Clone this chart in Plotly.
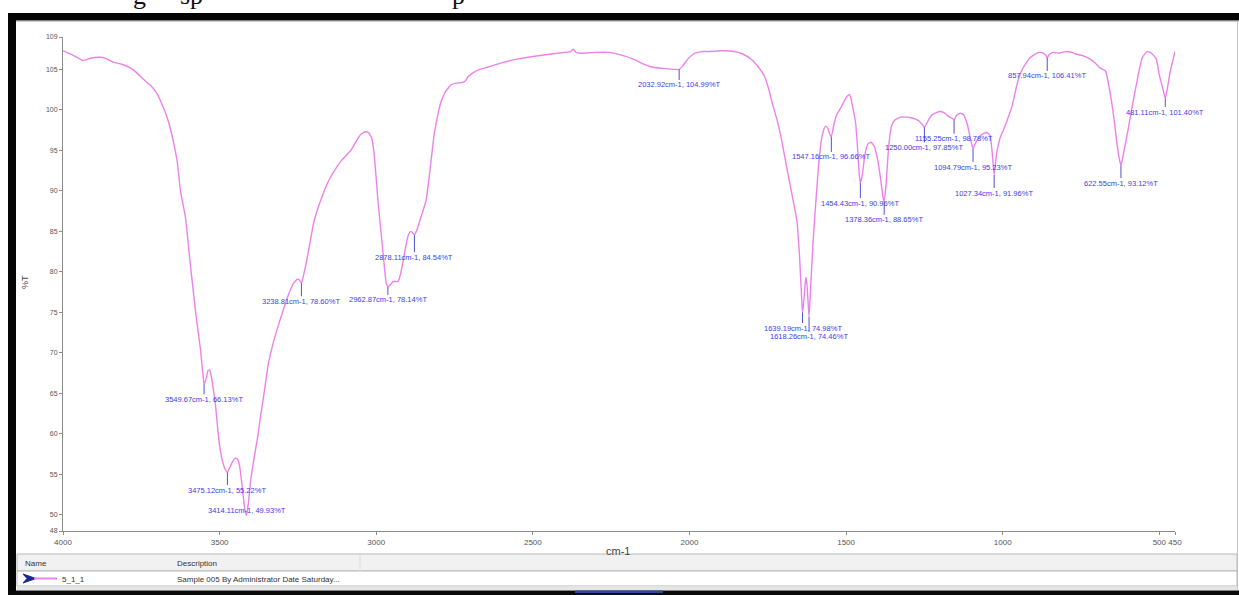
import plotly.graph_objects as go

# ---------------- data ----------------
wavenumber = [4000, 3970, 3936, 3910, 3880, 3860, 3840, 3810, 3785, 3765, 3744, 3720, 3700, 3685,
              3667, 3647, 3635, 3625, 3609, 3595, 3587, 3575, 3561, 3553, 3549.67, 3543, 3537, 3532,
              3527, 3520, 3513, 3507, 3500, 3490, 3482, 3475.12, 3468, 3458, 3450, 3443, 3436, 3428,
              3420, 3414.11, 3408, 3400, 3390, 3379, 3370, 3360, 3345, 3327, 3310, 3296, 3280, 3264,
              3252, 3245, 3238.81, 3232, 3225, 3212, 3200, 3185, 3171, 3155, 3135, 3110, 3081, 3060,
              3049, 3035, 3025, 3015, 3008, 3000, 2995, 2985, 2975, 2969, 2962.87, 2955, 2947, 2938,
              2931, 2922, 2912, 2904, 2896, 2889, 2883, 2878.11, 2870, 2857, 2841, 2830, 2815, 2800,
              2793, 2780, 2761, 2745, 2723, 2715, 2707, 2690, 2670, 2643, 2600, 2547, 2500, 2441,
              2400, 2380, 2371, 2362, 2351, 2300, 2259, 2220, 2175, 2150, 2121, 2080, 2050, 2032.92,
              2020, 2005, 1983, 1960, 1939, 1900, 1855, 1830, 1801, 1780, 1760, 1745, 1737, 1720,
              1705, 1690, 1673, 1657, 1648, 1641, 1639.19, 1636, 1630, 1628, 1625, 1621, 1618.26,
              1614, 1605, 1595, 1587, 1578, 1570, 1565, 1558, 1552, 1547.16, 1540, 1530, 1515, 1500,
              1490, 1485, 1478, 1470, 1462, 1458, 1454.43, 1448, 1440, 1430, 1420, 1410, 1400, 1390,
              1382, 1378.36, 1372, 1364, 1355, 1346, 1327, 1310, 1289, 1270, 1257, 1250.00, 1243,
              1235, 1225, 1210, 1199, 1185, 1173, 1163, 1155.25, 1148, 1136, 1125, 1113, 1105, 1098,
              1094.79, 1088, 1075, 1060, 1049, 1040, 1033, 1027.34, 1020, 1008, 1000, 986, 970, 954,
              940, 925, 914, 900, 885, 870, 862, 857.94, 852, 840, 820, 800, 780, 767, 745, 722,
              705, 690, 672, 658, 645, 635, 628, 622.55, 615, 600, 584, 572, 562, 554, 539, 525,
              510, 500, 490, 481.11, 475, 465, 450]
transmittance = [107.3, 106.8, 106.1, 106.4, 106.5, 106.3, 105.9, 105.6, 105.2, 104.6, 103.8, 103.0,
                 102.0, 100.8, 99.0, 96.0, 93.5, 90.0, 86.7, 81.5, 78.6, 74.5, 70.4, 67.2, 66.13,
                 66.8, 67.8, 67.9, 67.2, 65.5, 63.5, 61.0, 58.5, 56.5, 55.6, 55.22, 55.8, 56.6, 57.0,
                 56.9, 56.0, 53.5, 50.8, 49.93, 51.5, 54.5, 57.0, 59.5, 62.0, 64.5, 68.5, 71.5, 73.7,
                 75.4, 77.2, 78.6, 79.1, 79.0, 78.6, 79.6, 80.8, 83.5, 86.0, 88.0, 89.5, 91.0, 92.4,
                 93.8, 95.0, 96.4, 97.0, 97.3, 97.2, 96.6, 95.0, 91.5, 89.0, 85.0, 81.0, 78.8, 78.14,
                 78.4, 78.8, 78.8, 78.8, 79.8, 81.8, 83.5, 84.7, 85.0, 84.8, 84.54, 85.2, 86.8, 88.8,
                 92.0, 97.0, 100.0, 101.0, 102.2, 103.1, 103.3, 103.4, 103.6, 104.1, 104.6, 105.0,
                 105.3, 105.8, 106.3, 106.6, 106.9, 107.1, 107.2, 107.5, 107.1, 107.0, 107.1, 107.1,
                 106.8, 106.2, 105.7, 105.3, 105.1, 105.0, 104.99, 105.5, 106.3, 107.0, 107.2, 107.2,
                 107.3, 107.2, 106.9, 106.2, 105.3, 104.1, 102.3, 101.0, 98.7, 96.1, 93.0, 89.6,
                 86.3, 81.5, 76.0, 74.98, 76.0, 78.8, 79.3, 78.5, 76.0, 74.46, 77.5, 84.0, 89.5,
                 93.5, 96.5, 97.7, 98.0, 97.7, 97.0, 96.66, 98.0, 99.4, 100.4, 101.5, 101.9, 101.5,
                 100.2, 98.5, 94.5, 92.0, 90.96, 92.0, 94.5, 95.8, 96.0, 95.5, 94.0, 91.5, 89.2,
                 88.65, 91.0, 95.5, 98.0, 98.7, 99.1, 99.1, 99.0, 98.7, 98.2, 97.85, 98.3, 98.9,
                 99.4, 99.7, 99.8, 99.6, 99.2, 99.0, 98.78, 99.3, 99.6, 99.4, 98.2, 96.8, 95.6,
                 95.23, 95.8, 96.7, 97.1, 97.2, 96.8, 94.5, 91.96, 94.5, 96.6, 97.3, 98.7, 100.5,
                 103.2, 104.8, 105.8, 106.4, 106.8, 107.1, 107.0, 106.7, 106.41, 106.8, 107.1, 107.0,
                 107.2, 107.1, 106.9, 106.7, 106.3, 105.8, 105.2, 104.8, 102.3, 99.0, 95.8, 94.0,
                 93.12, 94.5, 97.5, 101.0, 103.4, 105.3, 106.5, 107.2, 107.0, 106.3, 104.3, 102.8,
                 101.40, 102.5, 104.8, 107.2]

peak_wn = [3549.67, 3475.12, 3414.11, 3238.81, 2962.87, 2878.11, 2032.92, 1639.19, 1618.26,
           1547.16, 1454.43, 1378.36, 1250.00, 1155.25, 1094.79, 1027.34, 857.94, 622.55, 481.11]
peak_t = [66.13, 55.22, 49.93, 78.60, 78.14, 84.54, 104.99, 74.98, 74.46,
          96.66, 90.96, 88.65, 97.85, 98.78, 95.23, 91.96, 106.41, 93.12, 101.40]

x_ticks = [4000, 3500, 3000, 2500, 2000, 1500, 1000, 500, 450]
y_ticks = [48, 50, 55, 60, 65, 70, 75, 80, 85, 90, 95, 100, 105, 109]

legend_name = "5_1_1"
legend_desc = "Sample 005 By Administrator Date Saturday..."

# ---------------- style / layout helpers ----------------
W, H = 1239, 595
ML, MR, MT, MB = 63, 64, 37, 64
PW, PH = W - ML - MR, H - MT - MB
# per-label pixel offset of the label below its peak (style only)
label_drop = [15, 17.5, None, 18, 13, 22, 15.5, 15.5, 20, 20, 20, 18, 20, 19, 18.5, 18, 18, 17.5, 13.5]


def px(x):
    return (x - ML) / PW


def py(y):
    return (H - MB - y) / PH


LINE = "#ee80ea"
BLUE = "#3c3cf0"

fig = go.Figure()
fig.add_trace(go.Scatter(x=wavenumber, y=transmittance, mode="lines",
                         line=dict(color=LINE, width=1.4, shape="spline", smoothing=0.4),
                         hoverinfo="x+y", showlegend=False))

annotations = []
for w, t, d in zip(peak_wn, peak_t, label_drop):
    txt = f"{w:.2f}cm-1, {t:.2f}%T"
    if d is None:
        annotations.append(dict(x=w, y=t, xref="x", yref="y", text=txt, showarrow=False,
                                xanchor="center", yanchor="middle",
                                yshift=4.5, font=dict(size=7.5, color=BLUE, family="Liberation Sans")))
    else:
        annotations.append(dict(x=w, y=t, xref="x", yref="y", text=txt, showarrow=True,
                                arrowhead=0, arrowwidth=1, arrowcolor="#5050d8", ax=0, ay=d,
                                standoff=0, borderpad=0,
                                font=dict(size=7.5, color=BLUE, family="Liberation Sans")))


def note(x, y, text, size, color="#333", family="Liberation Sans", xanchor="center",
         yanchor="middle", angle=0):
    return dict(x=px(x), y=py(y), xref="paper", yref="paper", text=text, showarrow=False,
                xanchor=xanchor, yanchor=yanchor, textangle=angle,
                font=dict(size=size, color=color, family=family))


# axis titles
annotations.append(note(25, 282, "%T", 9, "#444", angle=-90))
annotations.append(note(618, 551, "cm-1", 11, "#444"))

# legend table texts
annotations.append(note(23, 563, "Name", 8, xanchor="left"))
annotations.append(note(175, 563, "Description", 8, xanchor="left"))
annotations.append(note(60, 579, legend_name, 8, xanchor="left"))
annotations.append(note(175, 579, legend_desc, 8, xanchor="left"))

# clipped caption fragments at the very top of the page (only their lower part shows)
annotations.append(note(131, 12, "g", 26, "#111", "Liberation Serif", "left", "bottom"))
annotations.append(note(178, 12, "sp", 26, "#111", "Liberation Serif", "left", "bottom"))
annotations.append(note(450, 12, "p", 26, "#111", "Liberation Serif", "left", "bottom"))


def rect(x0, y0, x1, y1, fill, line=None, lw=0):
    return dict(type="rect", xref="paper", yref="paper", x0=px(x0), x1=px(x1), y0=py(y1), y1=py(y0),
                fillcolor=fill, line=dict(color=line or fill, width=lw), layer="above")


def hline(x0, x1, y, color, lw=1):
    return dict(type="line", xref="paper", yref="paper", x0=px(x0), x1=px(x1), y0=py(y), y1=py(y),
                line=dict(color=color, width=lw), layer="above")


def vline(x, y0, y1, color, lw=1):
    return dict(type="line", xref="paper", yref="paper", x0=px(x), x1=px(x), y0=py(y0), y1=py(y1),
                line=dict(color=color, width=lw), layer="above")


shapes = [
    rect(8, 13, 1239, 20.5, "#050505"),
    rect(8, 13, 16, 595, "#050505"),
    rect(8, 590.5, 1239, 595, "#0a0a0a"),
    rect(575, 590.5, 663, 593, "#2a4a9a"),
    hline(16, 1239, 21.5, "#c9ced8"),
    vline(1237.5, 21, 590, "#c8c8c8"),
    # legend table
    rect(17, 554, 1237, 571, "#f1f1f1", "#b8b8b8", 1),
    rect(17, 571, 1237, 586, "#ffffff", "#b8b8b8", 1),
    rect(17, 586.5, 1237, 590, "#e6e6e6"),
    vline(360, 555, 571, "#dddddd"),
    dict(type="path", xref="paper", yref="paper", layer="above",
         path=f"M {px(23)},{py(574)} L {px(36)},{py(578.5)} L {px(23)},{py(583)} L {px(27)},{py(578.5)} Z",
         fillcolor="#1a2a8a", line=dict(color="#1a2a8a", width=1)),
    hline(34, 57, 578.5, LINE, 2),
]

fig.update_layout(
    width=W, height=H, autosize=False,
    margin=dict(l=ML, r=MR, t=MT, b=MB, pad=0),
    paper_bgcolor="white", plot_bgcolor="white",
    showlegend=False,
    annotations=annotations, shapes=shapes,
    xaxis=dict(range=[4000, 450], tickvals=x_ticks, ticktext=[str(v) for v in x_ticks],
               tickangle=0,
               showgrid=False, zeroline=False, showline=True, linecolor="#8a8a8a", linewidth=1,
               ticks="outside", ticklen=3, tickcolor="#8a8a8a",
               tickfont=dict(size=8, color="#555", family="Liberation Sans")),
    yaxis=dict(range=[48, 109], tickvals=y_ticks, ticktext=[str(v) for v in y_ticks],
               tickangle=0,
               showgrid=False, zeroline=False, showline=True, linecolor="#8a8a8a", linewidth=1,
               ticks="outside", ticklen=3, tickcolor="#8a8a8a",
               tickfont=dict(size=7, color="#555", family="Liberation Sans")),
)

# remove the browser's default 8px page margin so the figure fills the window exactly
fig.write_html("out.html", config={"displayModeBar": False},
               post_script="document.body.style.margin='0';document.body.style.overflow='hidden';")
